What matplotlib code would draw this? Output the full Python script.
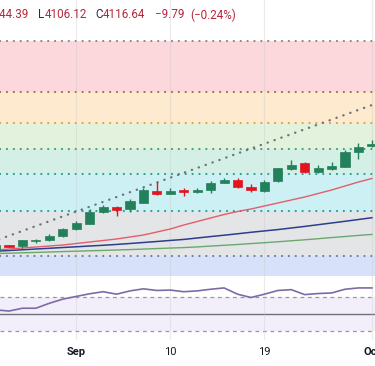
import matplotlib
matplotlib.use("Agg")
import matplotlib.pyplot as plt

# daily candles, prices (index 0..28)
opens  = [3967.6, 3975.6, 3975.0, 3982.0, 3982.6, 3989.0, 3998.0, 4005.4, 4022.2, 4029.6,
          4026.0, 4035.2, 4051.6, 4047.8, 4053.0, 4049.8, 4052.6, 4063.2, 4066.6, 4057.6,
          4052.0, 4065.2, 4082.4, 4090.4, 4078.6, 4082.4, 4085.6, 4106.6, 4114.6]
highs  = [3978.8, 3976.7, 3983.0, 3984.4, 3991.0, 3999.4, 4010.0, 4026.0, 4032.0, 4031.0,
          4040.4, 4055.4, 4064.6, 4056.2, 4055.4, 4055.4, 4065.6, 4070.2, 4070.2, 4061.4,
          4067.0, 4084.5, 4095.0, 4092.6, 4088.0, 4092.6, 4109.0, 4118.4, 4123.0]
lows   = [3966.2, 3972.9, 3972.2, 3978.4, 3981.2, 3987.6, 3997.0, 4005.0, 4020.8, 4017.0,
          4022.6, 4034.5, 4046.4, 4047.0, 4045.0, 4048.4, 4048.4, 4062.4, 4055.4, 4049.8,
          4050.6, 4064.2, 4081.0, 4077.2, 4076.4, 4081.0, 4085.2, 4096.0, 4113.9]
closes = [3976.7, 3973.5, 3982.6, 3983.7, 3989.0, 3998.4, 4006.4, 4022.6, 4029.6, 4025.0,
          4037.2, 4053.0, 4047.8, 4052.0, 4049.8, 4053.0, 4062.4, 4066.6, 4056.8, 4053.4,
          4064.6, 4083.4, 4088.0, 4078.6, 4083.4, 4087.0, 4106.6, 4113.6, 4117.0]

ma_red   = [3969.0, 3970.4, 3971.8, 3973.2, 3974.6, 3976.0, 3978.1, 3980.2, 3982.3, 3984.4,
            3987.2, 3990.0, 3994.2, 3998.4, 4004.0, 4008.9, 4013.8, 4018.7, 4022.9, 4026.4,
            4030.6, 4034.8, 4039.0, 4043.2, 4048.1, 4053.0, 4058.6, 4064.2, 4069.1]
ma_blue  = [3967.3, 3968.3, 3969.3, 3970.4, 3971.4, 3972.5, 3973.5, 3974.6, 3975.6, 3976.8,
            3978.1, 3979.5, 3980.9, 3982.4, 3983.8, 3985.8, 3987.8, 3989.7, 3991.7, 3993.8,
            3995.7, 3997.6, 3999.8, 4002.0, 4004.4, 4006.8, 4009.2, 4011.7, 4014.2]
ma_green = [3964.0, 3964.5, 3965.1, 3965.6, 3966.2, 3966.8, 3967.3, 3967.9, 3968.4, 3969.0,
            3969.6, 3970.3, 3971.0, 3971.7, 3972.4, 3973.3, 3974.5, 3975.6, 3976.7, 3978.0,
            3979.2, 3980.5, 3981.9, 3983.3, 3984.8, 3986.4, 3987.9, 3989.4, 3990.8]

rsi = [55.0, 53.6, 57.0, 57.0, 63.0, 68.0, 71.3, 74.5, 77.0, 74.0,
       78.0, 80.5, 78.5, 79.0, 77.0, 78.0, 80.0, 81.6, 74.0, 70.0,
       74.0, 78.5, 79.5, 73.5, 74.8, 75.5, 80.0, 81.6, 81.6]
rsi_levels = [70, 50, 30]

# fib drawing
fib_levels = [4261.6, 4190.2, 4147.2, 4110.4, 4075.4, 4024.0, 3961.0, 3932.6]
fib_fills = ['#fcd8dc', '#fdeacf', '#e3f2dd', '#d4f0e6', '#ccf0f3', '#e4e5e7', '#d7e1fa']
fib_line_colors = ['#9c7a80', '#a8675f', '#d2a648', '#3f9e78', '#2e9a8c', '#2a9a95', '#787b86']
trend_x = [0, 28]
trend_y = [3982.2, 4171.9]

tick_pos = [6, 13, 20, 28]
tick_labels = ['Sep', '10', '19', 'Oct']
tick_bold = [True, False, False, True]

# header: (text, colour, left px)
RED_TXT = '#b8263a'
DARK_TXT = '#2a2e39'
header = [('L', DARK_TXT, 38), ('4106.12', RED_TXT, 44.5), ('C', DARK_TXT, 95),
          ('4116.64', RED_TXT, 103), ('\u22129.79', RED_TXT, 155), ('(\u22120.24%)', RED_TXT, 190)]

UP = '#22805a'
DOWN = '#e3141e'
DOTS = (0, (0.1, 3.2))

plt.rcParams['font.family'] = ['Roboto', 'DejaVu Sans']

W, H = 375, 366
fig = plt.figure(figsize=(W / 100, H / 100), dpi=100)
ax = fig.add_axes([0, 1 - 280 / H, 1, 280 / H])
ax2 = fig.add_axes([0, 26 / H, 1, 60 / H])

x0, x1 = 0.327, 28.23
ax.set_xlim(x0, x1)
ax.set_ylim(3927, 4319)
ax2.set_xlim(x0, x1)
ax2.set_ylim(18.5, 91.2)

# fib bands + level lines
for k in range(len(fib_fills)):
    ax.axhspan(fib_levels[k + 1], fib_levels[k], color=fib_fills[k], lw=0, zorder=0)
for lvl, c in zip(fib_levels[:-1], fib_line_colors):
    ax.axhline(lvl, color=c, lw=1.5, ls=DOTS, dash_capstyle='round', zorder=1)
ax.plot(trend_x, trend_y, color='#6f727c', lw=1.7, ls=(0, (0.1, 3.0)),
        dash_capstyle='round', zorder=2)

# moving averages
xs = list(range(len(closes)))
ax.plot(xs, ma_green, color='#6aa86e', lw=1.0, zorder=3)
ax.plot(xs, ma_blue, color='#2c3e8c', lw=1.1, zorder=3)
ax.plot(xs, ma_red, color='#e35d6a', lw=1.0, zorder=3)

# candles
for i in xs:
    o, h, l, c = opens[i], highs[i], lows[i], closes[i]
    col = UP if c >= o else DOWN
    ax.vlines(i, l, h, color=col, lw=1.0, zorder=4)
    ax.bar(i, max(abs(c - o), 1.2), bottom=min(o, c), width=0.68,
           color=col, edgecolor=col, lw=0.5, zorder=5)

# RSI pane
ax2.axhspan(rsi_levels[2], rsi_levels[0], color='#f3effa', lw=0, zorder=0)
ax2.axhline(rsi_levels[0], color='#9598a1', lw=0.9, ls=(0, (3, 3)), zorder=1)
ax2.axhline(rsi_levels[2], color='#9598a1', lw=0.9, ls=(0, (3, 3)), zorder=1)
ax2.axhline(rsi_levels[1], color='#6e717b', lw=1.0, zorder=1)
ax2.plot(xs, rsi, color='#7f6aa8', lw=1.2, zorder=3)

for a in (ax, ax2):
    for s in a.spines.values():
        s.set_visible(False)
    a.set_xticks(tick_pos)
    a.set_yticks([])
    a.grid(axis='x', color='#c8c8c8', alpha=0.35, lw=0.8)
    a.set_axisbelow('line')

ax.tick_params(axis='x', length=0, labelbottom=False)
ax2.set_xticklabels(tick_labels)
ax2.tick_params(axis='x', length=0, pad=5, labelsize=8, colors='#131722')
for lab, b in zip(ax2.get_xticklabels(), tick_bold):
    if b:
        lab.set_fontweight('bold')

# header line, the high value is partly cut at the left edge as in the reference
fig.text(29 / W, 1 - 15 / H, '4144.39', color=RED_TXT, fontsize=8.4, ha='right', va='center')
for txt, col, px in header:
    fig.text(px / W, 1 - 15 / H, txt, color=col, fontsize=8.4, ha='left', va='center')

fig.savefig('out.png', dpi=100)
